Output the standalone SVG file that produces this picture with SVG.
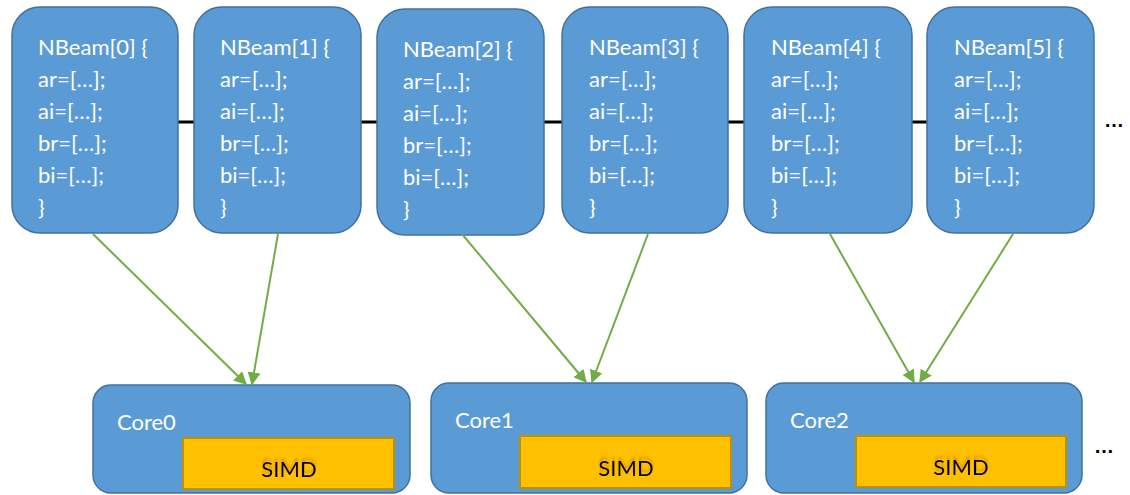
<svg xmlns="http://www.w3.org/2000/svg" width="1130" height="495" viewBox="0 0 1130 495">
  <style>
    .beam { fill: #5B9BD5; stroke: #41719C; stroke-width: 1.5; }
    .core { fill: #5B9BD5; stroke: #41719C; stroke-width: 1.5; }
    .simd { fill: #FFC000; stroke: #BF9000; stroke-width: 2; }
    .wt { font-family: Lato, "Open Sans", "Liberation Sans", sans-serif; font-size: 22px; fill: #FFFFFF; }
    .bt { font-family: Lato, "Open Sans", "Liberation Sans", sans-serif; font-size: 22px; fill: #000000; text-anchor: middle; }
    .dots { font-family: "Liberation Sans", sans-serif; font-size: 20px; font-weight: bold; fill: #000000; }
    .link { stroke: #70AD47; stroke-width: 2; fill: none; marker-end: url(#arrow); }
  </style>
  <defs>
    <marker id="arrow" viewBox="0 0 10 10" refX="9" refY="5" markerWidth="6.5" markerHeight="6.5" orient="auto" markerUnits="strokeWidth">
      <path d="M0,0 L10,5 L0,10 z" fill="#70AD47"/>
    </marker>
    <!-- soft raised echo behind the SIMD labels -->
    <filter id="ghost" x="-20%" y="-60%" width="140%" height="200%">
      <feOffset in="SourceAlpha" dy="-4" result="o"/>
      <feGaussianBlur in="o" stdDeviation="1.2" result="b"/>
      <feFlood flood-color="#A05A20" flood-opacity="0.35"/>
      <feComposite in2="b" operator="in" result="s"/>
      <feMerge><feMergeNode in="s"/><feMergeNode in="SourceGraphic"/></feMerge>
    </filter>
  </defs>

  <!-- backbone line behind the beam blocks -->
  <g id="bus">
    <line x1="100" y1="122" x2="1010" y2="122" stroke="#000000" stroke-width="3"/>
  </g>

  <g id="beam0">
    <rect class="beam" x="12" y="7" width="166" height="226" rx="28"/>
    <text class="wt" x="38"><tspan x="38" y="55">NBeam[0] {</tspan><tspan x="38" y="87">ar=[…];</tspan><tspan x="38" y="119">ai=[…];</tspan><tspan x="38" y="151">br=[…];</tspan><tspan x="38" y="183">bi=[…];</tspan><tspan x="38" y="215">}</tspan></text>
  </g>
  <g id="beam1">
    <rect class="beam" x="194" y="7" width="167" height="226" rx="28"/>
    <text class="wt" x="220"><tspan x="220" y="55">NBeam[1] {</tspan><tspan x="220" y="87">ar=[…];</tspan><tspan x="220" y="119">ai=[…];</tspan><tspan x="220" y="151">br=[…];</tspan><tspan x="220" y="183">bi=[…];</tspan><tspan x="220" y="215">}</tspan></text>
  </g>
  <g id="beam2">
    <rect class="beam" x="377" y="9" width="167" height="226" rx="28"/>
    <text class="wt" x="403"><tspan x="403" y="57">NBeam[2] {</tspan><tspan x="403" y="89">ar=[…];</tspan><tspan x="403" y="121">ai=[…];</tspan><tspan x="403" y="153">br=[…];</tspan><tspan x="403" y="185">bi=[…];</tspan><tspan x="403" y="217">}</tspan></text>
  </g>
  <g id="beam3">
    <rect class="beam" x="562" y="7" width="166" height="226" rx="28"/>
    <text class="wt" x="589"><tspan x="589" y="55">NBeam[3] {</tspan><tspan x="589" y="87">ar=[…];</tspan><tspan x="589" y="119">ai=[…];</tspan><tspan x="589" y="151">br=[…];</tspan><tspan x="589" y="183">bi=[…];</tspan><tspan x="589" y="215">}</tspan></text>
  </g>
  <g id="beam4">
    <rect class="beam" x="744" y="7" width="168" height="226" rx="28"/>
    <text class="wt" x="771"><tspan x="771" y="55">NBeam[4] {</tspan><tspan x="771" y="87">ar=[…];</tspan><tspan x="771" y="119">ai=[…];</tspan><tspan x="771" y="151">br=[…];</tspan><tspan x="771" y="183">bi=[…];</tspan><tspan x="771" y="215">}</tspan></text>
  </g>
  <g id="beam5">
    <rect class="beam" x="927" y="7" width="167" height="226" rx="28"/>
    <text class="wt" x="954"><tspan x="954" y="55">NBeam[5] {</tspan><tspan x="954" y="87">ar=[…];</tspan><tspan x="954" y="119">ai=[…];</tspan><tspan x="954" y="151">br=[…];</tspan><tspan x="954" y="183">bi=[…];</tspan><tspan x="954" y="215">}</tspan></text>
  </g>
  <g id="more-beams">
    <text class="dots" x="1104" y="127">…</text>
  </g>

  <g id="core0">
    <rect class="core" x="93" y="385" width="317" height="108" rx="18"/>
    <text class="wt" x="117" y="430">Core0</text>
    <rect class="simd" x="183" y="438" width="211" height="51"/>
    <text class="bt" x="289" y="477" filter="url(#ghost)">SIMD</text>
  </g>
  <g id="core1">
    <rect class="core" x="431" y="383" width="316" height="110" rx="18"/>
    <text class="wt" x="455" y="428">Core1</text>
    <rect class="simd" x="520" y="436" width="211" height="52"/>
    <text class="bt" x="626" y="476" filter="url(#ghost)">SIMD</text>
  </g>
  <g id="core2">
    <rect class="core" x="766" y="383" width="316" height="110" rx="18"/>
    <text class="wt" x="790" y="428">Core2</text>
    <rect class="simd" x="856" y="436" width="210" height="51"/>
    <text class="bt" x="961" y="475" filter="url(#ghost)">SIMD</text>
  </g>
  <g id="more-cores">
    <text class="dots" x="1094" y="453">…</text>
  </g>

  <!-- beam-to-core assignments -->
  <g id="connectors">
    <line class="link" x1="93" y1="234" x2="246" y2="384"/>
    <line class="link" x1="278" y1="234" x2="252" y2="384"/>
    <line class="link" x1="462" y1="234" x2="586" y2="382"/>
    <line class="link" x1="648" y1="234" x2="592" y2="382"/>
    <line class="link" x1="830" y1="234" x2="914" y2="382"/>
    <line class="link" x1="1013" y1="234" x2="920" y2="382"/>
  </g>
</svg>
